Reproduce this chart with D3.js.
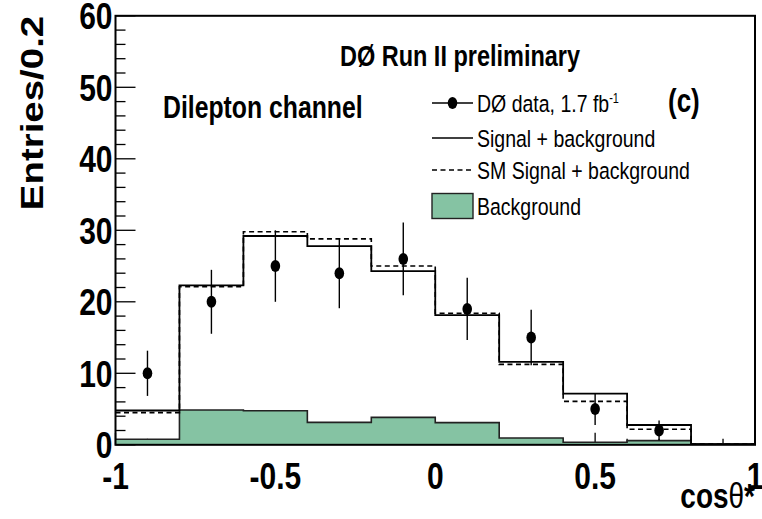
<!DOCTYPE html>
<html>
<head>
<meta charset="utf-8">
<script src="https://cdn.jsdelivr.net/npm/d3@7"></script>
<style>
  html, body { margin: 0; padding: 0; background: #fff; }
  svg text { font-family: "Liberation Sans", Arial, Helvetica, sans-serif; }
</style>
</head>
<body>
<svg id="chart" width="762" height="519"></svg>
<script>
// cos(theta*) bins, width 0.2
const binEdges = [-1, -0.8, -0.6, -0.4, -0.2, 0, 0.2, 0.4, 0.6, 0.8, 1];
const binCenters = [-0.9, -0.7, -0.5, -0.3, -0.1, 0.1, 0.3, 0.5, 0.7, 0.9];

// Observed events per bin
const dataCounts = [10, 20, 25, 24, 26, 19, 15, 5, 2, 0];
// Fitted signal + background
const sigPlusBkg = [4.8, 22.3, 29.2, 27.8, 24.3, 18.15, 11.6, 7.15, 2.77, 0.1];
// Standard Model signal + background
const smSigPlusBkg = [4.5, 22.1, 29.8, 28.8, 25.0, 18.4, 11.25, 6.08, 2.17, 0.1];
// Background only
const background = [0.77, 4.87, 4.77, 3.14, 3.84, 3.1, 0.95, 0.35, 0.58, 0.1];

const xTickLabels = ["-1", "-0.5", "0", "0.5", "1"];
const xTickValues = [-1, -0.5, 0, 0.5, 1];
const yTickValues = [0, 10, 20, 30, 40, 50, 60];

const legendLabels = ["DØ data, 1.7 fb", "Signal + background", "SM Signal + background", "Background"];

const K = 1.26;           // vertical stretch applied to all text
const FILL = "#85c3a3";

const svg = d3.select("#chart");
const plotL = 115.5, plotR = 755, plotT = 15.8, plotB = 444.8;

const x = d3.scaleLinear().domain([-1, 1]).range([plotL, plotR]);
const y = d3.scaleLinear().domain([0, 60]).range([plotB, plotT]);

function stext(parent, px, py, str, opt) {
  const g = parent.append("g").attr("transform", `translate(${px},${py}) scale(1,${K})` + (opt.rotate ? ` rotate(${opt.rotate})` : ""));
  const t = g.append("text")
    .attr("x", 0).attr("y", 0)
    .attr("font-size", opt.size)
    .attr("font-weight", opt.bold ? "bold" : "normal")
    .attr("text-anchor", opt.anchor || "start")
    .attr("fill", "#000");
  if (str !== null) t.text(str);
  return t;
}

// plot area
svg.append("rect").attr("x", plotL).attr("y", plotT).attr("width", plotR - plotL).attr("height", plotB - plotT).attr("fill", "#fff");

// x-axis ticks (drawn beneath the histograms)
const xMinor = d3.range(-10, 11).map(i => i / 10);
svg.append("g").selectAll("line").data(xMinor).join("line")
  .attr("x1", d => x(d)).attr("x2", d => x(d))
  .attr("y1", plotB).attr("y2", d => plotB - (Math.abs(d * 2 - Math.round(d * 2)) < 1e-6 ? 12 : 6))
  .attr("stroke", "#000").attr("stroke-width", 1.3);

// step-histogram points
function steps(vals) {
  const pts = vals.map((v, i) => [binEdges[i], v]);
  pts.push([binEdges[binEdges.length - 1], vals[vals.length - 1]]);
  return pts;
}

const area = d3.area().curve(d3.curveStepAfter).x(d => x(d[0])).y0(y(0)).y1(d => y(d[1]));
const line = d3.line().curve(d3.curveStepAfter).x(d => x(d[0])).y(d => y(d[1]));

svg.append("path").attr("d", area(steps(background))).attr("fill", FILL).attr("stroke", "none");
svg.append("path").attr("d", line(steps(background))).attr("fill", "none").attr("stroke", "#222").attr("stroke-width", 1.6);

svg.append("path").attr("d", line(steps(sigPlusBkg))).attr("fill", "none").attr("stroke", "#000").attr("stroke-width", 1.8);
svg.append("path").attr("d", line(steps(smSigPlusBkg))).attr("fill", "none").attr("stroke", "#000")
  .attr("stroke-width", 1.6).attr("stroke-dasharray", "5,3.5");

// data points with sqrt(N) error bars
const pts = binCenters.map((c, i) => ({ c, n: dataCounts[i] })).filter(d => d.n > 0);
const gData = svg.append("g");
gData.selectAll("line").data(pts).join("line")
  .attr("x1", d => x(d.c)).attr("x2", d => x(d.c))
  .attr("y1", d => y(d.n + Math.sqrt(d.n))).attr("y2", d => y(d.n - Math.sqrt(d.n)))
  .attr("stroke", "#000").attr("stroke-width", 1.4);
gData.selectAll("ellipse").data(pts).join("ellipse")
  .attr("cx", d => x(d.c)).attr("cy", d => y(d.n))
  .attr("rx", 4.8).attr("ry", 6).attr("fill", "#000");

// y-axis ticks
const yMinor = d3.range(0, 61, 2);
svg.append("g").selectAll("line").data(yMinor).join("line")
  .attr("x1", plotL).attr("x2", d => plotL + (d % 10 === 0 ? 20 : 10))
  .attr("y1", d => y(d)).attr("y2", d => y(d))
  .attr("stroke", "#000").attr("stroke-width", 1.3);

// frame
svg.append("rect").attr("x", plotL).attr("y", plotT).attr("width", plotR - plotL).attr("height", plotB - plotT)
  .attr("fill", "none").attr("stroke", "#000").attr("stroke-width", 2);

// tick labels
yTickValues.forEach(v => stext(svg, 112.5, y(v) + 13.5, String(v), { size: 30, bold: true, anchor: "end" }));
xTickValues.forEach((v, i) => stext(svg, x(v), 489, xTickLabels[i], { size: 30, bold: true, anchor: "middle" }));

// axis titles
stext(svg, 43, 113, "Entries/0.2", { size: 30.5, bold: true, anchor: "middle", rotate: -90 });
const xt = stext(svg, 755, 508, null, { size: 28, bold: true, anchor: "end" });
xt.append("tspan").text("cos");
xt.append("tspan").attr("font-weight", "normal").text("θ");
xt.append("tspan").text("*");

// annotations
stext(svg, 460, 66, "DØ Run II preliminary", { size: 23.5, bold: true, anchor: "middle" });
stext(svg, 163, 118, "Dilepton channel", { size: 24.8, bold: true });
stext(svg, 668, 112, "(c)", { size: 26, bold: true });

// legend
const legX0 = 432, legX1 = 473, legTx = 477;
const rowY = [103, 138, 170, 206];
// data entry
svg.append("line").attr("x1", legX0).attr("x2", legX1).attr("y1", rowY[0]).attr("y2", rowY[0]).attr("stroke", "#000").attr("stroke-width", 1.4);
svg.append("ellipse").attr("cx", (legX0 + legX1) / 2).attr("cy", rowY[0]).attr("rx", 4.8).attr("ry", 6).attr("fill", "#000");
// solid
svg.append("line").attr("x1", legX0).attr("x2", legX1).attr("y1", rowY[1]).attr("y2", rowY[1]).attr("stroke", "#000").attr("stroke-width", 1.6);
// dashed
svg.append("line").attr("x1", legX0).attr("x2", legX1).attr("y1", rowY[2]).attr("y2", rowY[2]).attr("stroke", "#000").attr("stroke-width", 1.4).attr("stroke-dasharray", "5,3.5");
// fill box
svg.append("rect").attr("x", legX0).attr("y", rowY[3] - 12.5).attr("width", legX1 - legX0).attr("height", 25)
  .attr("fill", FILL).attr("stroke", "#222").attr("stroke-width", 1.4);

legendLabels.forEach((lab, i) => {
  const t = stext(svg, legTx, rowY[i] + 8.8, null, { size: 19.5 });
  t.append("tspan").text(lab);
  if (i === 0) t.append("tspan").attr("font-size", 11).attr("dy", -7).text("-1");
});
</script>
</body>
</html>
